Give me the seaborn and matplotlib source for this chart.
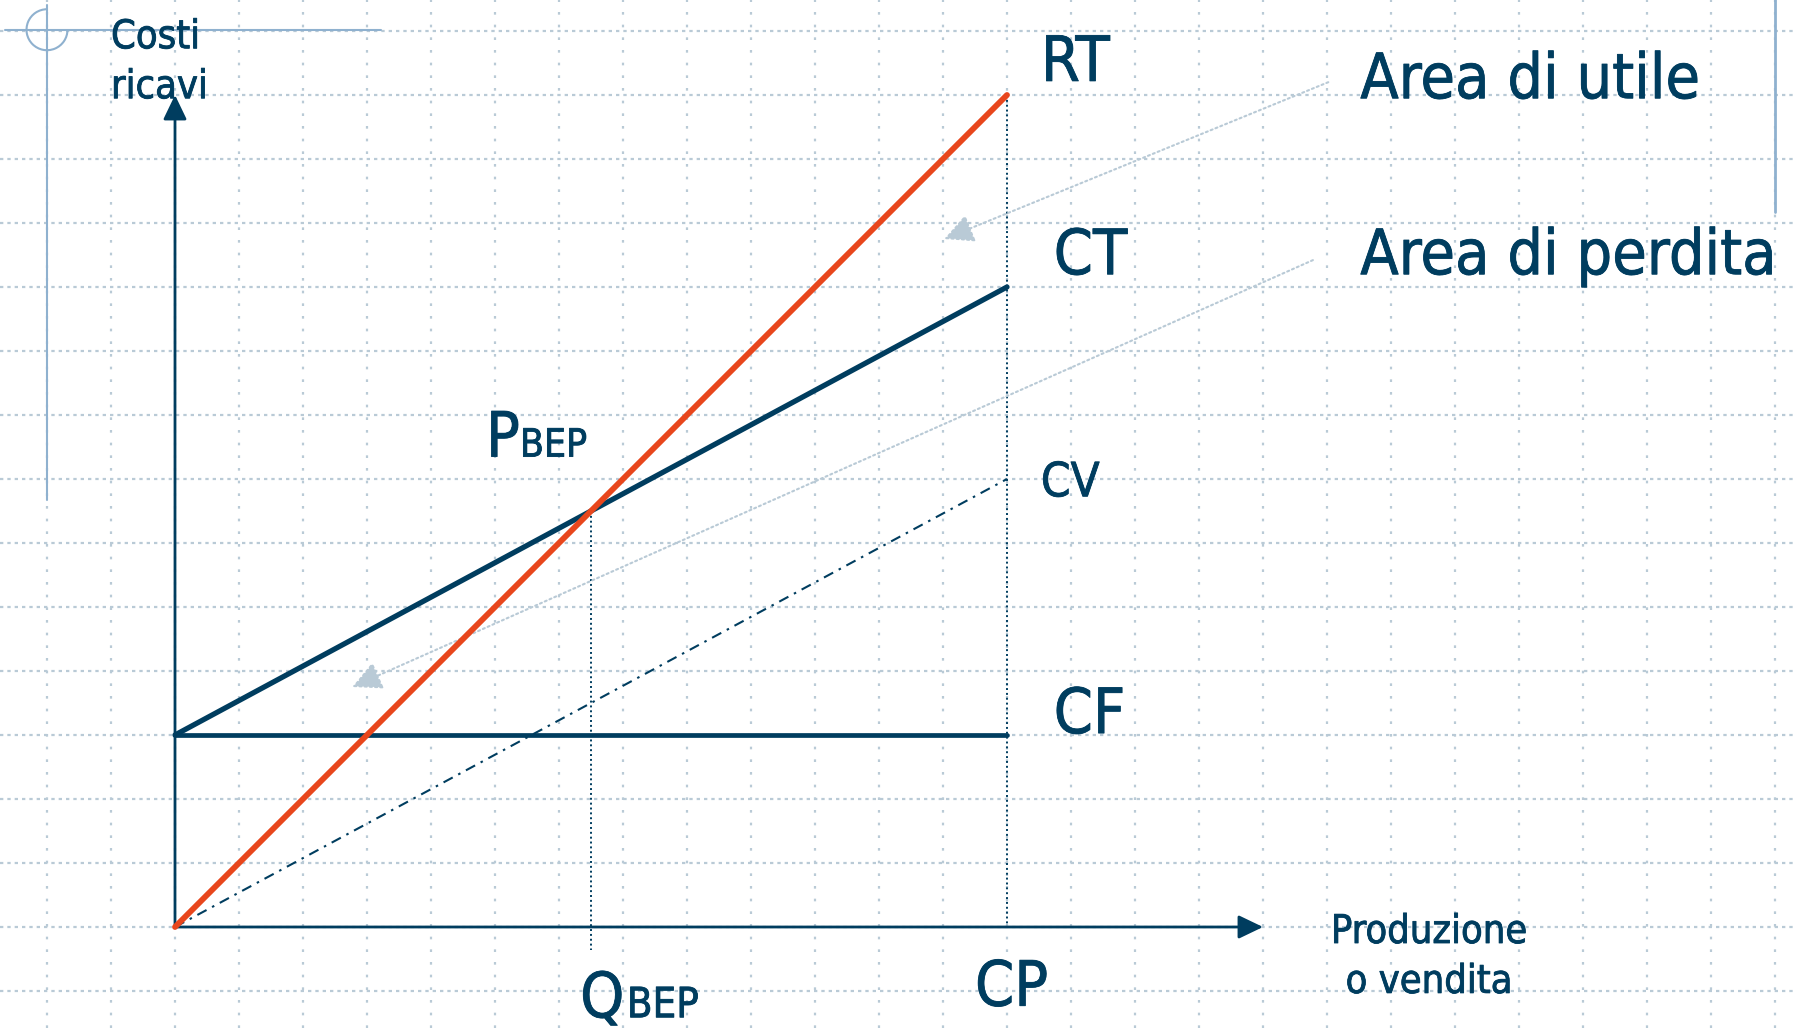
import numpy as np
import pandas as pd
import matplotlib.pyplot as plt
import matplotlib.patheffects as pe
import seaborn as sns
from matplotlib.patches import Arc

# -----------------------------------------------------------------------
# DATA (grid units: one square = one unit)
# -----------------------------------------------------------------------
quantita = [0, 13]            # from zero to capacita produttiva (CP)
ricavi_totali = [0, 13]       # RT
costi_fissi = [3, 3]          # CF
costi_variabili = [0, 7]      # CV
costi_totali = [3, 10]        # CT
q_bep = 6.5
p_bep = 6.5
asse_x_max = 17
asse_y_max = 13

NAVY = "#003d5f"
ORANGE = "#e8461c"
GRID = "#b9cad6"
DECO = "#8fb1cf"

sns.set_style("white")
plt.rcParams["font.family"] = ["DejaVu Sans"]

fig = plt.figure(figsize=(17.93, 10.28), dpi=100)
ax = fig.add_axes([0, 0, 1, 1])
ax.set_xlim(-175 / 64, (1793 - 175) / 64)
ax.set_ylim((927 - 1028) / 64, 927 / 64)

# background grid
ax.set_xticks(range(-2, 26))
ax.set_yticks(range(-1, 15))
ax.xaxis.grid(True, lw=1.6, color=GRID, linestyle=(0, (1.2, 4.5)))
ax.yaxis.grid(True, lw=1.6, color=GRID, linestyle=(0, (1.5, 1.8)))
ax.tick_params(length=0, labelbottom=False, labelleft=False)
for s in ax.spines.values():
    s.set_visible(False)

# slide decorations
ax.plot([-2.66, 3.22], [14.02, 14.02], color=DECO, lw=1.5, clip_on=False)
ax.plot([-2.0, -2.0], [14.41, 6.67], color=DECO, lw=1.5, clip_on=False)
ax.add_patch(Arc((-2.0, 14.02), 0.64, 0.64, theta1=90, theta2=360, color=DECO, lw=1.5))
ax.plot([25.0, 25.0], [14.6, 11.17], color=DECO, lw=2, clip_on=False)

# axes with arrows
arrow_kw = dict(arrowstyle="-|>,head_length=0.75,head_width=0.36", color=NAVY,
                lw=2, shrinkA=0, shrinkB=0, mutation_scale=20)
ax.annotate("", xy=(0, asse_y_max), xytext=(0, 0), arrowprops=arrow_kw)
ax.annotate("", xy=(asse_x_max, 0), xytext=(0, 0), arrowprops=arrow_kw)

# cost / revenue lines
df = pd.DataFrame({"q": quantita, "RT": ricavi_totali, "CF": costi_fissi,
                   "CV": costi_variabili, "CT": costi_totali})
sns.lineplot(data=df, x="q", y="CV", ax=ax, color=NAVY, lw=1.5,
             linestyle=(0, (5, 3, 1.2, 3)), zorder=3)
sns.lineplot(data=df, x="q", y="CF", ax=ax, color=NAVY, lw=3.4, zorder=4)
sns.lineplot(data=df, x="q", y="CT", ax=ax, color=NAVY, lw=3.8, zorder=4)
sns.lineplot(data=df, x="q", y="RT", ax=ax, color=ORANGE, lw=4.2, zorder=5)
ax.set_xlabel("")
ax.set_ylabel("")

# dotted guides for BEP and CP
ax.plot([q_bep, q_bep], [p_bep, -0.36], color=NAVY, lw=1.4, linestyle=(0, (1, 1.5)), zorder=2)
ax.plot([quantita[-1], quantita[-1]], [ricavi_totali[-1], 0], color=NAVY, lw=1.4,
        linestyle=(0, (1, 1.5)), zorder=2)

# area pointers
ptr_kw = dict(arrowstyle="-|>,head_length=0.9,head_width=0.45", color=GRID, lw=1.5,
              linestyle=(0, (1, 1.5)), shrinkA=0, shrinkB=0, mutation_scale=20)
ax.annotate("", xy=(12.02, 10.75), xytext=(18.02, 13.2), arrowprops=ptr_kw)
ax.annotate("", xy=(2.77, 3.75), xytext=(17.78, 10.42), arrowprops=ptr_kw)

# labels
big = 45
bold_fx = [pe.withStroke(linewidth=0.6, foreground=NAVY)]
txt = dict(color=NAVY, ha="left", va="baseline", fontstretch="condensed",
           path_effects=bold_fx)
ax.text(13.53, 13.22, "RT", fontsize=big, **txt)
ax.text(13.73, 10.2, "CT", fontsize=big, **txt)
ax.text(13.53, 6.73, "CV", fontsize=34, **txt)
ax.text(13.73, 3.03, "CF", fontsize=big, **txt)
ax.text(4.86, 7.35, "P", fontsize=big, **txt)
ax.text(5.39, 7.35, "BEP", fontsize=28, **txt)
ax.text(6.33, -1.41, "Q", fontsize=big, **txt)
ax.text(7.06, -1.41, "BEP", fontsize=30, **txt)
ax.text(12.5, -1.23, "CP", fontsize=big, **txt)
ax.text(18.52, 12.95, "Area di utile", fontsize=big, **txt)
ax.text(18.52, 10.2, "Area di perdita", fontsize=big, **txt)
ax.text(-1.0, 13.73, "Costi", fontsize=28.5, **txt)
ax.text(-1.0, 12.95, "ricavi", fontsize=28.5, **txt)
ax.text(19.6, -0.25, "Produzione", fontsize=28.5, color=NAVY, ha="center", va="baseline",
        fontstretch="condensed", path_effects=bold_fx)
ax.text(19.6, -1.03, "o vendita", fontsize=28.5, color=NAVY, ha="center", va="baseline",
        fontstretch="condensed", path_effects=bold_fx)

fig.savefig("out.png", dpi=100)
